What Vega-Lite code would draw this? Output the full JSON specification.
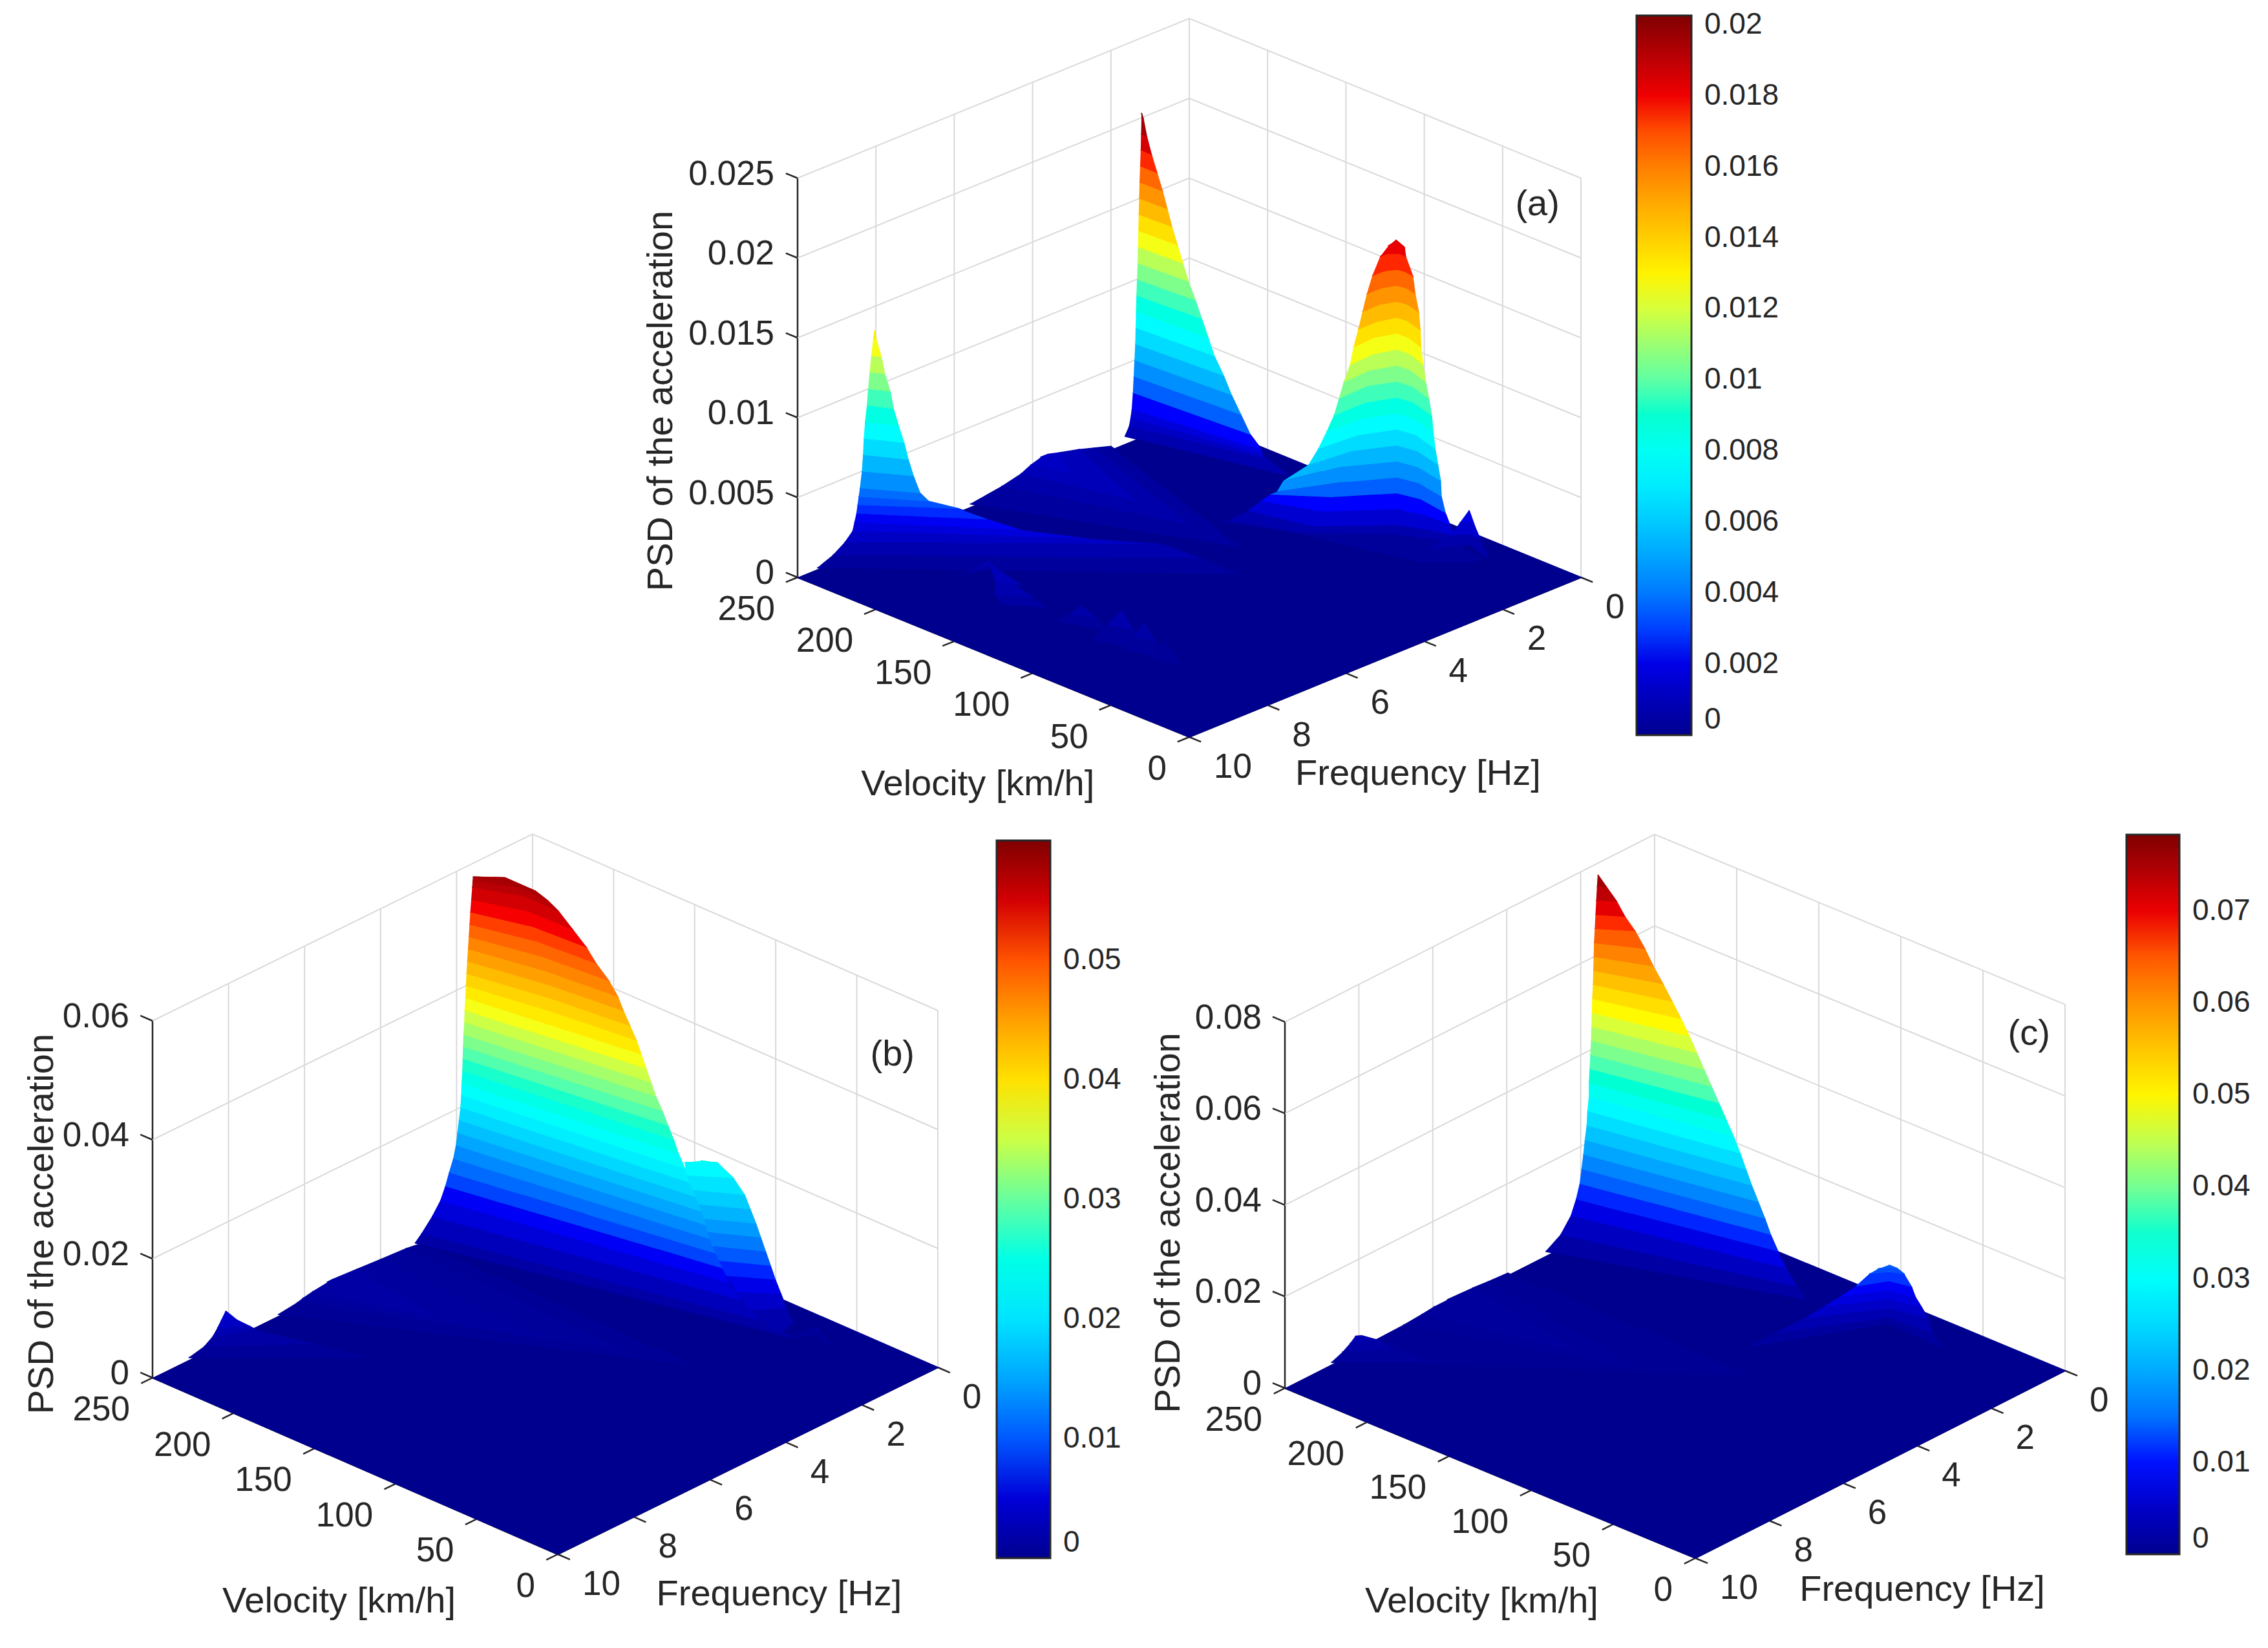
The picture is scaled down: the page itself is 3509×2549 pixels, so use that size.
{"$schema":"https://vega.github.io/schema/vega-lite/v6.json","width":3509,"height":2549,"padding":0,"autosize":{"type":"none"},"background":"white","config":{"view":{"stroke":null},"text":{"font":"Liberation Sans","fontSize":53,"color":"#262626"},"line":{"point":false}},
"resolve":{"scale":{"fill":"independent","stroke":"independent"}},
"encoding":{"x":{"field":"sx","type":"quantitative","scale":{"domain":[0,3509]},"axis":null},"y":{"field":"sy","type":"quantitative","scale":{"domain":[2549,0]},"axis":null}},
"datasets":{
"box":[{"id":"f2","kind":"grid","vel":250,"frq":2,"h":0},{"id":"f2","kind":"grid","vel":250,"frq":2,"h":1},{"id":"f4","kind":"grid","vel":250,"frq":4,"h":0},{"id":"f4","kind":"grid","vel":250,"frq":4,"h":1},{"id":"f6","kind":"grid","vel":250,"frq":6,"h":0},{"id":"f6","kind":"grid","vel":250,"frq":6,"h":1},{"id":"f8","kind":"grid","vel":250,"frq":8,"h":0},{"id":"f8","kind":"grid","vel":250,"frq":8,"h":1},{"id":"c","kind":"grid","vel":250,"frq":0,"h":0},{"id":"c","kind":"grid","vel":250,"frq":0,"h":1},{"id":"v0","kind":"grid","vel":0,"frq":0,"h":0},{"id":"v0","kind":"grid","vel":0,"frq":0,"h":1},{"id":"v50","kind":"grid","vel":50,"frq":0,"h":0},{"id":"v50","kind":"grid","vel":50,"frq":0,"h":1},{"id":"v100","kind":"grid","vel":100,"frq":0,"h":0},{"id":"v100","kind":"grid","vel":100,"frq":0,"h":1},{"id":"v150","kind":"grid","vel":150,"frq":0,"h":0},{"id":"v150","kind":"grid","vel":150,"frq":0,"h":1},{"id":"v200","kind":"grid","vel":200,"frq":0,"h":0},{"id":"v200","kind":"grid","vel":200,"frq":0,"h":1},
{"id":"ax","kind":"axis","vel":250,"frq":10,"h":0},{"id":"ax","kind":"axis","vel":250,"frq":10,"h":1},{"id":"e","kind":"axis","vel":250,"frq":10,"h":0},{"id":"e","kind":"axis","vel":0,"frq":10,"h":0},{"id":"e","kind":"axis","vel":0,"frq":0,"h":0},
{"id":"t0","kind":"axis","vel":0,"frq":10,"h":0},{"id":"t0","kind":"axis","vel":0,"frq":10.3,"h":0},{"id":"t1","kind":"axis","vel":50,"frq":10,"h":0},{"id":"t1","kind":"axis","vel":50,"frq":10.3,"h":0},{"id":"t2","kind":"axis","vel":100,"frq":10,"h":0},{"id":"t2","kind":"axis","vel":100,"frq":10.3,"h":0},{"id":"t3","kind":"axis","vel":150,"frq":10,"h":0},{"id":"t3","kind":"axis","vel":150,"frq":10.3,"h":0},{"id":"t4","kind":"axis","vel":200,"frq":10,"h":0},{"id":"t4","kind":"axis","vel":200,"frq":10.3,"h":0},{"id":"t5","kind":"axis","vel":250,"frq":10,"h":0},{"id":"t5","kind":"axis","vel":250,"frq":10.3,"h":0},
{"id":"u0","kind":"axis","vel":0,"frq":0,"h":0},{"id":"u0","kind":"axis","vel":-7.5,"frq":0,"h":0},{"id":"u1","kind":"axis","vel":0,"frq":2,"h":0},{"id":"u1","kind":"axis","vel":-7.5,"frq":2,"h":0},{"id":"u2","kind":"axis","vel":0,"frq":4,"h":0},{"id":"u2","kind":"axis","vel":-7.5,"frq":4,"h":0},{"id":"u3","kind":"axis","vel":0,"frq":6,"h":0},{"id":"u3","kind":"axis","vel":-7.5,"frq":6,"h":0},{"id":"u4","kind":"axis","vel":0,"frq":8,"h":0},{"id":"u4","kind":"axis","vel":-7.5,"frq":8,"h":0},{"id":"u5","kind":"axis","vel":0,"frq":10,"h":0},{"id":"u5","kind":"axis","vel":-7.5,"frq":10,"h":0},
{"kind":"vt","vel":0,"frq":10,"h":0},{"kind":"vt","vel":50,"frq":10,"h":0},{"kind":"vt","vel":100,"frq":10,"h":0},{"kind":"vt","vel":150,"frq":10,"h":0},{"kind":"vt","vel":200,"frq":10,"h":0},{"kind":"vt","vel":250,"frq":10,"h":0},
{"kind":"ft","vel":0,"frq":0,"h":0},{"kind":"ft","vel":0,"frq":2,"h":0},{"kind":"ft","vel":0,"frq":4,"h":0},{"kind":"ft","vel":0,"frq":6,"h":0},{"kind":"ft","vel":0,"frq":8,"h":0},{"kind":"ft","vel":0,"frq":10,"h":0}],
"za":[{"id":"z1","kind":"grid","psd":0.005,"vel":250,"frq":10},{"id":"z1","kind":"grid","psd":0.005,"vel":250,"frq":0},{"id":"z1","kind":"grid","psd":0.005,"vel":0,"frq":0},{"id":"z2","kind":"grid","psd":0.01,"vel":250,"frq":10},{"id":"z2","kind":"grid","psd":0.01,"vel":250,"frq":0},{"id":"z2","kind":"grid","psd":0.01,"vel":0,"frq":0},{"id":"z3","kind":"grid","psd":0.015,"vel":250,"frq":10},{"id":"z3","kind":"grid","psd":0.015,"vel":250,"frq":0},{"id":"z3","kind":"grid","psd":0.015,"vel":0,"frq":0},{"id":"z4","kind":"grid","psd":0.02,"vel":250,"frq":10},{"id":"z4","kind":"grid","psd":0.02,"vel":250,"frq":0},{"id":"z4","kind":"grid","psd":0.02,"vel":0,"frq":0},{"id":"z5","kind":"grid","psd":0.025,"vel":250,"frq":10},{"id":"z5","kind":"grid","psd":0.025,"vel":250,"frq":0},{"id":"z5","kind":"grid","psd":0.025,"vel":0,"frq":0},
{"id":"k0","kind":"axis","psd":0,"vel":250,"frq":10},{"id":"k0","kind":"axis","psd":0,"vel":257.5,"frq":10},{"id":"k1","kind":"axis","psd":0.005,"vel":250,"frq":10},{"id":"k1","kind":"axis","psd":0.005,"vel":257.5,"frq":10},{"id":"k2","kind":"axis","psd":0.01,"vel":250,"frq":10},{"id":"k2","kind":"axis","psd":0.01,"vel":257.5,"frq":10},{"id":"k3","kind":"axis","psd":0.015,"vel":250,"frq":10},{"id":"k3","kind":"axis","psd":0.015,"vel":257.5,"frq":10},{"id":"k4","kind":"axis","psd":0.02,"vel":250,"frq":10},{"id":"k4","kind":"axis","psd":0.02,"vel":257.5,"frq":10},{"id":"k5","kind":"axis","psd":0.025,"vel":250,"frq":10},{"id":"k5","kind":"axis","psd":0.025,"vel":257.5,"frq":10},
{"kind":"zl","psd":0,"vel":250,"frq":10},{"kind":"zl","psd":0.005,"vel":250,"frq":10},{"kind":"zl","psd":0.01,"vel":250,"frq":10},{"kind":"zl","psd":0.015,"vel":250,"frq":10},{"kind":"zl","psd":0.02,"vel":250,"frq":10},{"kind":"zl","psd":0.025,"vel":250,"frq":10},
{"kind":"title","t":"Velocity [km/h]","vel":30.5,"frq":14.18,"psd":0},{"kind":"title","t":"Frequency [Hz]","vel":-102,"frq":8.24,"psd":0},{"kind":"ytitle","t":"PSD of the acceleration","vel":250,"frq":13.48,"psd":0.01453},{"kind":"title","t":"(a)","vel":27.8,"frq":0,"psd":0.02225}],
"zb":[{"id":"z1","kind":"grid","psd":0.02,"vel":250,"frq":10},{"id":"z1","kind":"grid","psd":0.02,"vel":250,"frq":0},{"id":"z1","kind":"grid","psd":0.02,"vel":0,"frq":0},{"id":"z2","kind":"grid","psd":0.04,"vel":250,"frq":10},{"id":"z2","kind":"grid","psd":0.04,"vel":250,"frq":0},{"id":"z2","kind":"grid","psd":0.04,"vel":0,"frq":0},{"id":"z3","kind":"grid","psd":0.06,"vel":250,"frq":10},{"id":"z3","kind":"grid","psd":0.06,"vel":250,"frq":0},{"id":"z3","kind":"grid","psd":0.06,"vel":0,"frq":0},
{"id":"k0","kind":"axis","psd":0,"vel":250,"frq":10},{"id":"k0","kind":"axis","psd":0,"vel":257.5,"frq":10},{"id":"k1","kind":"axis","psd":0.02,"vel":250,"frq":10},{"id":"k1","kind":"axis","psd":0.02,"vel":257.5,"frq":10},{"id":"k2","kind":"axis","psd":0.04,"vel":250,"frq":10},{"id":"k2","kind":"axis","psd":0.04,"vel":257.5,"frq":10},{"id":"k3","kind":"axis","psd":0.06,"vel":250,"frq":10},{"id":"k3","kind":"axis","psd":0.06,"vel":257.5,"frq":10},
{"kind":"zl","psd":0,"vel":250,"frq":10},{"kind":"zl","psd":0.02,"vel":250,"frq":10},{"kind":"zl","psd":0.04,"vel":250,"frq":10},{"kind":"zl","psd":0.06,"vel":250,"frq":10},
{"kind":"title","t":"Velocity [km/h]","vel":40,"frq":14.05,"psd":0},{"kind":"title","t":"Frequency [Hz]","vel":-99,"frq":8.4,"psd":0},{"kind":"ytitle","t":"PSD of the acceleration","vel":250,"frq":12.91,"psd":0.035},{"kind":"title","t":"(b)","vel":28,"frq":0,"psd":0.0493}],
"zc":[{"id":"z1","kind":"grid","psd":0.02,"vel":250,"frq":10},{"id":"z1","kind":"grid","psd":0.02,"vel":250,"frq":0},{"id":"z1","kind":"grid","psd":0.02,"vel":0,"frq":0},{"id":"z2","kind":"grid","psd":0.04,"vel":250,"frq":10},{"id":"z2","kind":"grid","psd":0.04,"vel":250,"frq":0},{"id":"z2","kind":"grid","psd":0.04,"vel":0,"frq":0},{"id":"z3","kind":"grid","psd":0.06,"vel":250,"frq":10},{"id":"z3","kind":"grid","psd":0.06,"vel":250,"frq":0},{"id":"z3","kind":"grid","psd":0.06,"vel":0,"frq":0},{"id":"z4","kind":"grid","psd":0.08,"vel":250,"frq":10},{"id":"z4","kind":"grid","psd":0.08,"vel":250,"frq":0},{"id":"z4","kind":"grid","psd":0.08,"vel":0,"frq":0},
{"id":"k0","kind":"axis","psd":0,"vel":250,"frq":10},{"id":"k0","kind":"axis","psd":0,"vel":257.5,"frq":10},{"id":"k1","kind":"axis","psd":0.02,"vel":250,"frq":10},{"id":"k1","kind":"axis","psd":0.02,"vel":257.5,"frq":10},{"id":"k2","kind":"axis","psd":0.04,"vel":250,"frq":10},{"id":"k2","kind":"axis","psd":0.04,"vel":257.5,"frq":10},{"id":"k3","kind":"axis","psd":0.06,"vel":250,"frq":10},{"id":"k3","kind":"axis","psd":0.06,"vel":257.5,"frq":10},{"id":"k4","kind":"axis","psd":0.08,"vel":250,"frq":10},{"id":"k4","kind":"axis","psd":0.08,"vel":257.5,"frq":10},
{"kind":"zl","psd":0,"vel":250,"frq":10},{"kind":"zl","psd":0.02,"vel":250,"frq":10},{"kind":"zl","psd":0.04,"vel":250,"frq":10},{"kind":"zl","psd":0.06,"vel":250,"frq":10},{"kind":"zl","psd":0.08,"vel":250,"frq":10},
{"kind":"title","t":"Velocity [km/h]","vel":43,"frq":13.87,"psd":0},{"kind":"title","t":"Frequency [Hz]","vel":-97,"frq":8.17,"psd":0},{"kind":"ytitle","t":"PSD of the acceleration","vel":250,"frq":13.15,"psd":0.049},{"kind":"title","t":"(c)","vel":22,"frq":0,"psd":0.0703}],
"a":[{"lobe":0,"psd":0,"vel":250,"frq":10},{"lobe":0,"psd":0,"vel":0,"frq":10},{"lobe":0,"psd":0,"vel":0,"frq":0},{"lobe":0,"psd":0,"vel":250,"frq":0},
{"lobe":1,"psd":0.0002,"vel":250,"frq":5.6},{"lobe":1,"psd":0.0002,"vel":130,"frq":3.5},{"lobe":1,"psd":0.0002,"vel":250,"frq":2},{"lobe":1,"psd":0.0005,"vel":250,"frq":4.8},{"lobe":1,"psd":0.0005,"vel":160,"frq":3.6},{"lobe":1,"psd":0.0005,"vel":250,"frq":2.4},{"lobe":1,"psd":0.0008,"vel":250,"frq":4.3},{"lobe":1,"psd":0.0008,"vel":190,"frq":3.7},{"lobe":1,"psd":0.0008,"vel":250,"frq":2.8},{"lobe":1,"psd":0.0011,"vel":250,"frq":4.05},{"lobe":1,"psd":0.0011,"vel":230,"frq":3.8},{"lobe":1,"psd":0.0011,"vel":250,"frq":3.3},{"lobe":1,"psd":0.0013,"vel":250,"frq":3.8},{"lobe":1,"psd":0.0013,"vel":250,"frq":3.7},{"lobe":1,"psd":0.0013,"vel":250,"frq":3.6},
{"lobe":2,"psd":0.0005,"vel":250,"frq":1.65},{"lobe":2,"psd":0.0005,"vel":166,"frq":0.8},{"lobe":2,"psd":0.001,"vel":250,"frq":1.54},{"lobe":2,"psd":0.001,"vel":179,"frq":0.8},{"lobe":2,"psd":0.0015,"vel":250,"frq":1.5},{"lobe":2,"psd":0.0015,"vel":178,"frq":1},{"lobe":2,"psd":0.002,"vel":250,"frq":1.47},{"lobe":2,"psd":0.002,"vel":176,"frq":1.1},{"lobe":2,"psd":0.003,"vel":250,"frq":1.44},{"lobe":2,"psd":0.003,"vel":180,"frq":1.25},{"lobe":2,"psd":0.004,"vel":250,"frq":1.42},{"lobe":2,"psd":0.004,"vel":186,"frq":1.25},{"lobe":2,"psd":0.005,"vel":250,"frq":1.4},{"lobe":2,"psd":0.005,"vel":192,"frq":1.25},{"lobe":2,"psd":0.006,"vel":250,"frq":1.38},{"lobe":2,"psd":0.006,"vel":197,"frq":1.25},{"lobe":2,"psd":0.007,"vel":250,"frq":1.37},{"lobe":2,"psd":0.007,"vel":203,"frq":1.25},{"lobe":2,"psd":0.008,"vel":250,"frq":1.36},{"lobe":2,"psd":0.008,"vel":207,"frq":1.25},{"lobe":2,"psd":0.009,"vel":250,"frq":1.35},{"lobe":2,"psd":0.009,"vel":211,"frq":1.25},{"lobe":2,"psd":0.01,"vel":250,"frq":1.335},{"lobe":2,"psd":0.01,"vel":215,"frq":1.25},{"lobe":2,"psd":0.011,"vel":250,"frq":1.32},{"lobe":2,"psd":0.011,"vel":219.5,"frq":1.25},{"lobe":2,"psd":0.012,"vel":250,"frq":1.31},{"lobe":2,"psd":0.012,"vel":223,"frq":1.25},{"lobe":2,"psd":0.013,"vel":250,"frq":1.3},{"lobe":2,"psd":0.013,"vel":226.5,"frq":1.25},{"lobe":2,"psd":0.014,"vel":250,"frq":1.29},{"lobe":2,"psd":0.014,"vel":230,"frq":1.25},{"lobe":2,"psd":0.015,"vel":250,"frq":1.28},{"lobe":2,"psd":0.015,"vel":233,"frq":1.25},{"lobe":2,"psd":0.016,"vel":250,"frq":1.27},{"lobe":2,"psd":0.016,"vel":236,"frq":1.25},{"lobe":2,"psd":0.017,"vel":250,"frq":1.255},{"lobe":2,"psd":0.017,"vel":239.5,"frq":1.25},{"lobe":2,"psd":0.018,"vel":250,"frq":1.24},{"lobe":2,"psd":0.018,"vel":243,"frq":1.25},{"lobe":2,"psd":0.019,"vel":250,"frq":1.23},{"lobe":2,"psd":0.019,"vel":246,"frq":1.25},{"lobe":2,"psd":0.02,"vel":250,"frq":1.22},{"lobe":2,"psd":0.02,"vel":249,"frq":1.22},{"lobe":2,"psd":0.0203,"vel":250,"frq":1.22},
{"lobe":3,"psd":0.0001,"vel":250,"frq":9.5},{"lobe":3,"psd":0.0001,"vel":110,"frq":4.3},{"lobe":3,"psd":0.0005,"vel":250,"frq":9.1},{"lobe":3,"psd":0.0005,"vel":130,"frq":4.5},{"lobe":3,"psd":0.001,"vel":250,"frq":8.8},{"lobe":3,"psd":0.001,"vel":147,"frq":4.8},{"lobe":3,"psd":0.0015,"vel":250,"frq":8.6},{"lobe":3,"psd":0.0015,"vel":168,"frq":5.8},{"lobe":3,"psd":0.002,"vel":250,"frq":8.55},{"lobe":3,"psd":0.002,"vel":190,"frq":6.65},{"lobe":3,"psd":0.0025,"vel":250,"frq":8.5},{"lobe":3,"psd":0.0025,"vel":203,"frq":7},{"lobe":3,"psd":0.003,"vel":250,"frq":8.47},{"lobe":3,"psd":0.003,"vel":215,"frq":7.3},{"lobe":3,"psd":0.0035,"vel":250,"frq":8.44},{"lobe":3,"psd":0.0035,"vel":224,"frq":7.7},{"lobe":3,"psd":0.004,"vel":250,"frq":8.41},{"lobe":3,"psd":0.004,"vel":227,"frq":7.8},{"lobe":3,"psd":0.005,"vel":250,"frq":8.36},{"lobe":3,"psd":0.005,"vel":230,"frq":7.85},{"lobe":3,"psd":0.006,"vel":250,"frq":8.33},{"lobe":3,"psd":0.006,"vel":232,"frq":7.9},{"lobe":3,"psd":0.007,"vel":250,"frq":8.31},{"lobe":3,"psd":0.007,"vel":234,"frq":7.93},{"lobe":3,"psd":0.008,"vel":250,"frq":8.28},{"lobe":3,"psd":0.008,"vel":236.5,"frq":7.97},{"lobe":3,"psd":0.009,"vel":250,"frq":8.23},{"lobe":3,"psd":0.009,"vel":239,"frq":8},{"lobe":3,"psd":0.01,"vel":250,"frq":8.2},{"lobe":3,"psd":0.01,"vel":241,"frq":8},{"lobe":3,"psd":0.011,"vel":250,"frq":8.16},{"lobe":3,"psd":0.011,"vel":244,"frq":8.02},{"lobe":3,"psd":0.012,"vel":250,"frq":8.12},{"lobe":3,"psd":0.012,"vel":246,"frq":8.03},{"lobe":3,"psd":0.013,"vel":250,"frq":8.07},{"lobe":3,"psd":0.013,"vel":249,"frq":8.04},{"lobe":3,"psd":0.0135,"vel":250,"frq":8.04},
{"lobe":4,"psd":0.0001,"vel":160,"frq":3},{"lobe":4,"psd":0.0001,"vel":130,"frq":2.4},{"lobe":4,"psd":0.0001,"vel":60,"frq":1.6},{"lobe":4,"psd":0.0001,"vel":45,"frq":1},{"lobe":4,"psd":0.0001,"vel":45,"frq":0.7},
{"lobe":4,"psd":0.0004,"vel":152,"frq":2.93},{"lobe":4,"psd":0.0004,"vel":120,"frq":2.4},{"lobe":4,"psd":0.0004,"vel":87,"frq":1.22},{"lobe":4,"psd":0.0004,"vel":72.5,"frq":0.9},{"lobe":4,"psd":0.0004,"vel":57,"frq":0.75},
{"lobe":4,"psd":0.001,"vel":146,"frq":2.67},{"lobe":4,"psd":0.001,"vel":113,"frq":2.33},{"lobe":4,"psd":0.001,"vel":87,"frq":1.22},{"lobe":4,"psd":0.001,"vel":74,"frq":0.97},{"lobe":4,"psd":0.001,"vel":59,"frq":0.8},
{"lobe":4,"psd":0.002,"vel":137,"frq":2.7},{"lobe":4,"psd":0.002,"vel":109,"frq":2.26},{"lobe":4,"psd":0.002,"vel":87,"frq":1.22},{"lobe":4,"psd":0.002,"vel":74,"frq":1.06},{"lobe":4,"psd":0.002,"vel":58,"frq":1.03},
{"lobe":4,"psd":0.003,"vel":126.5,"frq":2.88},{"lobe":4,"psd":0.003,"vel":105,"frq":2.18},{"lobe":4,"psd":0.003,"vel":87,"frq":1.22},{"lobe":4,"psd":0.003,"vel":75,"frq":1.1},{"lobe":4,"psd":0.003,"vel":56.5,"frq":1.21},
{"lobe":4,"psd":0.004,"vel":114,"frq":3.2},{"lobe":4,"psd":0.004,"vel":102,"frq":2.17},{"lobe":4,"psd":0.004,"vel":87,"frq":1.22},{"lobe":4,"psd":0.004,"vel":75.5,"frq":1.12},{"lobe":4,"psd":0.004,"vel":58,"frq":1.25},
{"lobe":4,"psd":0.005,"vel":108,"frq":3.28},{"lobe":4,"psd":0.005,"vel":101,"frq":2.13},{"lobe":4,"psd":0.005,"vel":87,"frq":1.22},{"lobe":4,"psd":0.005,"vel":76,"frq":1.13},{"lobe":4,"psd":0.005,"vel":58,"frq":1.27},
{"lobe":4,"psd":0.006,"vel":100,"frq":2.96},{"lobe":4,"psd":0.006,"vel":97,"frq":1.97},{"lobe":4,"psd":0.006,"vel":87,"frq":1.22},{"lobe":4,"psd":0.006,"vel":76,"frq":1.14},{"lobe":4,"psd":0.006,"vel":59,"frq":1.3},
{"lobe":4,"psd":0.007,"vel":97,"frq":2.83},{"lobe":4,"psd":0.007,"vel":95,"frq":1.9},{"lobe":4,"psd":0.007,"vel":87,"frq":1.22},{"lobe":4,"psd":0.007,"vel":77,"frq":1.15},{"lobe":4,"psd":0.007,"vel":60,"frq":1.33},
{"lobe":4,"psd":0.008,"vel":95,"frq":2.7},{"lobe":4,"psd":0.008,"vel":94,"frq":1.85},{"lobe":4,"psd":0.008,"vel":87,"frq":1.22},{"lobe":4,"psd":0.008,"vel":77,"frq":1.16},{"lobe":4,"psd":0.008,"vel":61,"frq":1.34},
{"lobe":4,"psd":0.009,"vel":93,"frq":2.59},{"lobe":4,"psd":0.009,"vel":93,"frq":1.79},{"lobe":4,"psd":0.009,"vel":87,"frq":1.22},{"lobe":4,"psd":0.009,"vel":78,"frq":1.17},{"lobe":4,"psd":0.009,"vel":62,"frq":1.34},
{"lobe":4,"psd":0.01,"vel":92,"frq":2.5},{"lobe":4,"psd":0.01,"vel":93,"frq":1.75},{"lobe":4,"psd":0.01,"vel":87,"frq":1.22},{"lobe":4,"psd":0.01,"vel":78,"frq":1.18},{"lobe":4,"psd":0.01,"vel":63.5,"frq":1.35},
{"lobe":4,"psd":0.011,"vel":91,"frq":2.42},{"lobe":4,"psd":0.011,"vel":92,"frq":1.72},{"lobe":4,"psd":0.011,"vel":87,"frq":1.22},{"lobe":4,"psd":0.011,"vel":79,"frq":1.19},{"lobe":4,"psd":0.011,"vel":65,"frq":1.37},
{"lobe":4,"psd":0.012,"vel":90,"frq":2.3},{"lobe":4,"psd":0.012,"vel":91,"frq":1.67},{"lobe":4,"psd":0.012,"vel":87,"frq":1.22},{"lobe":4,"psd":0.012,"vel":79,"frq":1.2},{"lobe":4,"psd":0.012,"vel":67,"frq":1.36},
{"lobe":4,"psd":0.013,"vel":90,"frq":2.21},{"lobe":4,"psd":0.013,"vel":91,"frq":1.63},{"lobe":4,"psd":0.013,"vel":87,"frq":1.22},{"lobe":4,"psd":0.013,"vel":80,"frq":1.2},{"lobe":4,"psd":0.013,"vel":68.5,"frq":1.35},
{"lobe":4,"psd":0.014,"vel":90,"frq":2.09},{"lobe":4,"psd":0.014,"vel":90,"frq":1.58},{"lobe":4,"psd":0.014,"vel":87,"frq":1.22},{"lobe":4,"psd":0.014,"vel":81,"frq":1.19},{"lobe":4,"psd":0.014,"vel":70,"frq":1.31},
{"lobe":4,"psd":0.015,"vel":90,"frq":1.98},{"lobe":4,"psd":0.015,"vel":90,"frq":1.53},{"lobe":4,"psd":0.015,"vel":87,"frq":1.22},{"lobe":4,"psd":0.015,"vel":81,"frq":1.18},{"lobe":4,"psd":0.015,"vel":72,"frq":1.27},
{"lobe":4,"psd":0.016,"vel":90,"frq":1.87},{"lobe":4,"psd":0.016,"vel":90,"frq":1.49},{"lobe":4,"psd":0.016,"vel":87,"frq":1.22},{"lobe":4,"psd":0.016,"vel":82,"frq":1.18},{"lobe":4,"psd":0.016,"vel":75,"frq":1.24},
{"lobe":4,"psd":0.017,"vel":90,"frq":1.73},{"lobe":4,"psd":0.017,"vel":90,"frq":1.43},{"lobe":4,"psd":0.017,"vel":87,"frq":1.22},{"lobe":4,"psd":0.017,"vel":83,"frq":1.18},{"lobe":4,"psd":0.017,"vel":77,"frq":1.22},
{"lobe":4,"psd":0.018,"vel":90,"frq":1.53},{"lobe":4,"psd":0.018,"vel":90,"frq":1.36},{"lobe":4,"psd":0.018,"vel":87,"frq":1.22},{"lobe":4,"psd":0.018,"vel":85,"frq":1.19},{"lobe":4,"psd":0.018,"vel":82,"frq":1.2},
{"lobe":4,"psd":0.0183,"vel":92,"frq":1.24},{"lobe":4,"psd":0.0183,"vel":93,"frq":1},{"lobe":4,"psd":0.0183,"vel":86,"frq":1.07},{"lobe":4,"psd":0.0185,"vel":92,"frq":1.05},
{"lobe":5,"psd":0.0003,"vel":67,"frq":1.23},{"lobe":5,"psd":0.0003,"vel":57,"frq":0.57},{"lobe":5,"psd":0.0003,"vel":40,"frq":0.75},{"lobe":5,"psd":0.001,"vel":62,"frq":0.85},{"lobe":5,"psd":0.001,"vel":57,"frq":0.57},{"lobe":5,"psd":0.001,"vel":49,"frq":0.61},{"lobe":5,"psd":0.0018,"vel":59,"frq":0.73},{"lobe":5,"psd":0.0018,"vel":57,"frq":0.57},{"lobe":5,"psd":0.0018,"vel":51,"frq":0.67},{"lobe":5,"psd":0.0025,"vel":57,"frq":0.58},
{"lobe":6,"psd":0.0003,"vel":198,"frq":8.29},{"lobe":6,"psd":0.0003,"vel":192,"frq":7.45},{"lobe":6,"psd":0.0003,"vel":143,"frq":7.9},{"lobe":6,"psd":0.0003,"vel":160,"frq":8.4},{"lobe":6,"psd":0.0006,"vel":192,"frq":8.09},{"lobe":6,"psd":0.0006,"vel":191,"frq":7.5},{"lobe":6,"psd":0.0006,"vel":151,"frq":7.93},{"lobe":6,"psd":0.0006,"vel":166,"frq":8.33},{"lobe":6,"psd":0.0009,"vel":189,"frq":7.9},{"lobe":6,"psd":0.0009,"vel":189,"frq":7.56},{"lobe":6,"psd":0.0009,"vel":161,"frq":7.84},{"lobe":6,"psd":0.0009,"vel":172,"frq":8.07},{"lobe":6,"psd":0.0012,"vel":187,"frq":7.65},
{"lobe":7,"psd":0.0001,"vel":132,"frq":8.1},{"lobe":7,"psd":0.0001,"vel":105.5,"frq":7.76},{"lobe":7,"psd":0.0005,"vel":128,"frq":7.93},{"lobe":7,"psd":0.0005,"vel":116,"frq":7.73},{"lobe":7,"psd":0.001,"vel":125,"frq":7.75},
{"lobe":8,"psd":0.0001,"vel":106,"frq":8.25},{"lobe":8,"psd":0.0001,"vel":82,"frq":7.9},{"lobe":8,"psd":0.0005,"vel":107.5,"frq":7.8},{"lobe":8,"psd":0.0005,"vel":95,"frq":7.61},{"lobe":8,"psd":0.0011,"vel":107.5,"frq":7.42},
{"lobe":9,"psd":0.0001,"vel":89,"frq":8.18},{"lobe":9,"psd":0.0001,"vel":66,"frq":7.87},{"lobe":9,"psd":0.0004,"vel":92,"frq":7.79},{"lobe":9,"psd":0.0004,"vel":79,"frq":7.68},{"lobe":9,"psd":0.0009,"vel":93,"frq":7.42},
{"lobe":10,"psd":0.0001,"vel":72,"frq":8.11},{"lobe":10,"psd":0.0001,"vel":56.5,"frq":7.9},{"lobe":10,"psd":0.0005,"vel":78,"frq":7.54}],
"b":[{"lobe":0,"psd":0,"vel":250,"frq":10},{"lobe":0,"psd":0,"vel":0,"frq":10},{"lobe":0,"psd":0,"vel":0,"frq":0},{"lobe":0,"psd":0,"vel":250,"frq":0},
{"lobe":1,"psd":0.0003,"vel":250,"frq":6.7},{"lobe":1,"psd":0.0003,"vel":80,"frq":3},{"lobe":1,"psd":0.0003,"vel":250,"frq":2.9},{"lobe":1,"psd":0.0007,"vel":250,"frq":6.2},{"lobe":1,"psd":0.0007,"vel":110,"frq":3.5},{"lobe":1,"psd":0.0007,"vel":250,"frq":3.3},{"lobe":1,"psd":0.001,"vel":250,"frq":6.05},{"lobe":1,"psd":0.001,"vel":140,"frq":4.2},{"lobe":1,"psd":0.001,"vel":250,"frq":3.98},{"lobe":1,"psd":0.0013,"vel":250,"frq":5.8},{"lobe":1,"psd":0.0013,"vel":190,"frq":5},{"lobe":1,"psd":0.0013,"vel":250,"frq":4.6},{"lobe":1,"psd":0.0016,"vel":250,"frq":5.41},{"lobe":1,"psd":0.0016,"vel":250,"frq":5.3},{"lobe":1,"psd":0.0016,"vel":250,"frq":5.2},
{"lobe":2,"psd":0.0004,"vel":250,"frq":9.05},{"lobe":2,"psd":0.0004,"vel":190,"frq":6.8},{"lobe":2,"psd":0.001,"vel":250,"frq":8.65},{"lobe":2,"psd":0.001,"vel":215,"frq":7.2},{"lobe":2,"psd":0.002,"vel":250,"frq":8.42},{"lobe":2,"psd":0.002,"vel":240,"frq":7.7},{"lobe":2,"psd":0.003,"vel":250,"frq":8.3},{"lobe":2,"psd":0.003,"vel":241,"frq":7.85},{"lobe":2,"psd":0.004,"vel":250,"frq":8.2},{"lobe":2,"psd":0.004,"vel":245,"frq":8},{"lobe":2,"psd":0.0052,"vel":250,"frq":8.08},
{"lobe":3,"psd":0.001,"vel":250,"frq":3.1},{"lobe":3,"psd":0.001,"vel":60,"frq":1.1},{"lobe":3,"psd":0.002,"vel":250,"frq":2.93},{"lobe":3,"psd":0.002,"vel":80,"frq":1.2},{"lobe":3,"psd":0.004,"vel":250,"frq":2.65},{"lobe":3,"psd":0.004,"vel":92.5,"frq":1.2},{"lobe":3,"psd":0.006,"vel":250,"frq":2.43},{"lobe":3,"psd":0.006,"vel":100,"frq":1.2},{"lobe":3,"psd":0.008,"vel":250,"frq":2.3},{"lobe":3,"psd":0.008,"vel":105,"frq":1.2},{"lobe":3,"psd":0.01,"vel":250,"frq":2.2},{"lobe":3,"psd":0.01,"vel":109,"frq":1.2},{"lobe":3,"psd":0.012,"vel":250,"frq":2.09},{"lobe":3,"psd":0.012,"vel":112.5,"frq":1.2},{"lobe":3,"psd":0.014,"vel":250,"frq":2.02},{"lobe":3,"psd":0.014,"vel":115,"frq":1.2},{"lobe":3,"psd":0.016,"vel":250,"frq":1.98},{"lobe":3,"psd":0.016,"vel":117.5,"frq":1.2},{"lobe":3,"psd":0.018,"vel":250,"frq":1.94},{"lobe":3,"psd":0.018,"vel":121,"frq":1.2},{"lobe":3,"psd":0.02,"vel":250,"frq":1.9},{"lobe":3,"psd":0.02,"vel":125,"frq":1.2},{"lobe":3,"psd":0.022,"vel":250,"frq":1.88},{"lobe":3,"psd":0.022,"vel":128,"frq":1.2},{"lobe":3,"psd":0.024,"vel":250,"frq":1.87},{"lobe":3,"psd":0.024,"vel":132,"frq":1.2},{"lobe":3,"psd":0.026,"vel":250,"frq":1.85},{"lobe":3,"psd":0.026,"vel":135,"frq":1.2},{"lobe":3,"psd":0.028,"vel":250,"frq":1.84},{"lobe":3,"psd":0.028,"vel":138.5,"frq":1.2},{"lobe":3,"psd":0.03,"vel":250,"frq":1.83},{"lobe":3,"psd":0.03,"vel":142,"frq":1.2},{"lobe":3,"psd":0.032,"vel":250,"frq":1.82},{"lobe":3,"psd":0.032,"vel":146,"frq":1.2},{"lobe":3,"psd":0.034,"vel":250,"frq":1.8},{"lobe":3,"psd":0.034,"vel":149,"frq":1.2},{"lobe":3,"psd":0.036,"vel":250,"frq":1.79},{"lobe":3,"psd":0.036,"vel":152,"frq":1.2},{"lobe":3,"psd":0.038,"vel":250,"frq":1.77},{"lobe":3,"psd":0.038,"vel":155,"frq":1.2},
{"lobe":3,"psd":0.04,"vel":250,"frq":1.755},{"lobe":3,"psd":0.04,"vel":204,"frq":1.43},{"lobe":3,"psd":0.04,"vel":158,"frq":1.2},{"lobe":3,"psd":0.042,"vel":250,"frq":1.74},{"lobe":3,"psd":0.042,"vel":206,"frq":1.41},{"lobe":3,"psd":0.042,"vel":162,"frq":1.2},{"lobe":3,"psd":0.044,"vel":250,"frq":1.72},{"lobe":3,"psd":0.044,"vel":208,"frq":1.39},{"lobe":3,"psd":0.044,"vel":166,"frq":1.2},{"lobe":3,"psd":0.046,"vel":250,"frq":1.7},{"lobe":3,"psd":0.046,"vel":210,"frq":1.37},{"lobe":3,"psd":0.046,"vel":169.5,"frq":1.2},{"lobe":3,"psd":0.048,"vel":250,"frq":1.68},{"lobe":3,"psd":0.048,"vel":212.5,"frq":1.34},{"lobe":3,"psd":0.048,"vel":175,"frq":1.2},{"lobe":3,"psd":0.05,"vel":250,"frq":1.66},{"lobe":3,"psd":0.05,"vel":216.5,"frq":1.31},{"lobe":3,"psd":0.05,"vel":183,"frq":1.2},{"lobe":3,"psd":0.052,"vel":250,"frq":1.64},{"lobe":3,"psd":0.052,"vel":219.6,"frq":1.28},{"lobe":3,"psd":0.052,"vel":189,"frq":1.2},{"lobe":3,"psd":0.054,"vel":250,"frq":1.615},{"lobe":3,"psd":0.054,"vel":224,"frq":1.24},{"lobe":3,"psd":0.054,"vel":197.5,"frq":1.2},{"lobe":3,"psd":0.056,"vel":250,"frq":1.59},{"lobe":3,"psd":0.056,"vel":228,"frq":1.2},{"lobe":3,"psd":0.056,"vel":206,"frq":1.2},{"lobe":3,"psd":0.057,"vel":250,"frq":1.58},{"lobe":3,"psd":0.057,"vel":231,"frq":1.19},{"lobe":3,"psd":0.057,"vel":212.5,"frq":1.2},{"lobe":3,"psd":0.0577,"vel":250,"frq":1.57},{"lobe":3,"psd":0.0577,"vel":239,"frq":1.2},{"lobe":3,"psd":0.0577,"vel":220,"frq":1.2},
{"lobe":4,"psd":0.001,"vel":70,"frq":1.2},{"lobe":4,"psd":0.001,"vel":72.5,"frq":0.7},{"lobe":4,"psd":0.003,"vel":87.5,"frq":1.2},{"lobe":4,"psd":0.003,"vel":77,"frq":0.7},{"lobe":4,"psd":0.005,"vel":96,"frq":1.2},{"lobe":4,"psd":0.005,"vel":80.5,"frq":0.7},{"lobe":4,"psd":0.007,"vel":102.5,"frq":1.2},{"lobe":4,"psd":0.007,"vel":84,"frq":0.7},{"lobe":4,"psd":0.009,"vel":107,"frq":1.2},{"lobe":4,"psd":0.009,"vel":87,"frq":0.7},{"lobe":4,"psd":0.011,"vel":111,"frq":1.2},{"lobe":4,"psd":0.011,"vel":90,"frq":0.7},{"lobe":4,"psd":0.013,"vel":114,"frq":1.2},{"lobe":4,"psd":0.013,"vel":93,"frq":0.7},{"lobe":4,"psd":0.015,"vel":116,"frq":1.2},{"lobe":4,"psd":0.015,"vel":96,"frq":0.7},{"lobe":4,"psd":0.017,"vel":119.5,"frq":1.2},{"lobe":4,"psd":0.017,"vel":99.5,"frq":0.7},{"lobe":4,"psd":0.019,"vel":123,"frq":1.2},{"lobe":4,"psd":0.019,"vel":103,"frq":0.7},{"lobe":4,"psd":0.021,"vel":127,"frq":1.2},{"lobe":4,"psd":0.021,"vel":110,"frq":0.7},{"lobe":4,"psd":0.023,"vel":128,"frq":1.2},{"lobe":4,"psd":0.023,"vel":117.5,"frq":0.8},{"lobe":4,"psd":0.0245,"vel":118,"frq":1.2},{"lobe":4,"psd":0.0245,"vel":113,"frq":1.11},
{"lobe":5,"psd":0.0004,"vel":71,"frq":1.25},{"lobe":5,"psd":0.0004,"vel":59,"frq":0.66},{"lobe":5,"psd":0.0004,"vel":28,"frq":1.03},{"lobe":5,"psd":0.001,"vel":64,"frq":0.84},{"lobe":5,"psd":0.001,"vel":60,"frq":0.61},{"lobe":5,"psd":0.001,"vel":46,"frq":0.85},{"lobe":5,"psd":0.002,"vel":58,"frq":0.69}],
"c":[{"lobe":0,"psd":0,"vel":250,"frq":10},{"lobe":0,"psd":0,"vel":0,"frq":10},{"lobe":0,"psd":0,"vel":0,"frq":0},{"lobe":0,"psd":0,"vel":250,"frq":0},
{"lobe":1,"psd":0.0004,"vel":250,"frq":8.6},{"lobe":1,"psd":0.0004,"vel":100,"frq":4},{"lobe":1,"psd":0.0004,"vel":250,"frq":3.97},{"lobe":1,"psd":0.0007,"vel":250,"frq":6.8},{"lobe":1,"psd":0.0007,"vel":140,"frq":5.2},{"lobe":1,"psd":0.0007,"vel":250,"frq":4.5},{"lobe":1,"psd":0.001,"vel":250,"frq":6.3},{"lobe":1,"psd":0.001,"vel":170,"frq":5.5},{"lobe":1,"psd":0.001,"vel":250,"frq":4.9},{"lobe":1,"psd":0.0013,"vel":250,"frq":5.98},{"lobe":1,"psd":0.0013,"vel":240,"frq":5.9},{"lobe":1,"psd":0.0013,"vel":250,"frq":5.6},
{"lobe":2,"psd":0.0005,"vel":250,"frq":8.75},{"lobe":2,"psd":0.0005,"vel":215,"frq":7.5},{"lobe":2,"psd":0.0015,"vel":250,"frq":8.45},{"lobe":2,"psd":0.0015,"vel":235,"frq":7.7},{"lobe":2,"psd":0.0025,"vel":250,"frq":8.25},{"lobe":2,"psd":0.0025,"vel":243,"frq":7.8},{"lobe":2,"psd":0.0035,"vel":250,"frq":8.1},{"lobe":2,"psd":0.0035,"vel":248,"frq":8},
{"lobe":3,"psd":0.001,"vel":250,"frq":2.95},{"lobe":3,"psd":0.001,"vel":130,"frq":1.2},{"lobe":3,"psd":0.003,"vel":250,"frq":2.55},{"lobe":3,"psd":0.003,"vel":136,"frq":1.2},{"lobe":3,"psd":0.006,"vel":250,"frq":2.27},{"lobe":3,"psd":0.006,"vel":142.5,"frq":1.2},{"lobe":3,"psd":0.009,"vel":250,"frq":2.13},{"lobe":3,"psd":0.009,"vel":148,"frq":1.2},{"lobe":3,"psd":0.012,"vel":250,"frq":2.03},{"lobe":3,"psd":0.012,"vel":152.5,"frq":1.2},{"lobe":3,"psd":0.015,"vel":250,"frq":1.98},{"lobe":3,"psd":0.015,"vel":156,"frq":1.2},{"lobe":3,"psd":0.018,"vel":250,"frq":1.93},{"lobe":3,"psd":0.018,"vel":160,"frq":1.2},{"lobe":3,"psd":0.021,"vel":250,"frq":1.89},{"lobe":3,"psd":0.021,"vel":164,"frq":1.2},{"lobe":3,"psd":0.024,"vel":250,"frq":1.84},{"lobe":3,"psd":0.024,"vel":167.5,"frq":1.2},{"lobe":3,"psd":0.027,"vel":250,"frq":1.82},{"lobe":3,"psd":0.027,"vel":171,"frq":1.2},{"lobe":3,"psd":0.03,"vel":250,"frq":1.78},{"lobe":3,"psd":0.03,"vel":175,"frq":1.2},{"lobe":3,"psd":0.033,"vel":250,"frq":1.78},{"lobe":3,"psd":0.033,"vel":179.5,"frq":1.2},{"lobe":3,"psd":0.036,"vel":250,"frq":1.76},{"lobe":3,"psd":0.036,"vel":184,"frq":1.2},{"lobe":3,"psd":0.039,"vel":250,"frq":1.74},{"lobe":3,"psd":0.039,"vel":188.5,"frq":1.2},{"lobe":3,"psd":0.042,"vel":250,"frq":1.72},{"lobe":3,"psd":0.042,"vel":193,"frq":1.2},{"lobe":3,"psd":0.045,"vel":250,"frq":1.71},{"lobe":3,"psd":0.045,"vel":197.5,"frq":1.2},{"lobe":3,"psd":0.048,"vel":250,"frq":1.7},{"lobe":3,"psd":0.048,"vel":202,"frq":1.2},{"lobe":3,"psd":0.051,"vel":250,"frq":1.69},{"lobe":3,"psd":0.051,"vel":207,"frq":1.2},{"lobe":3,"psd":0.054,"vel":250,"frq":1.67},{"lobe":3,"psd":0.054,"vel":212.5,"frq":1.2},{"lobe":3,"psd":0.057,"vel":250,"frq":1.66},{"lobe":3,"psd":0.057,"vel":218,"frq":1.2},{"lobe":3,"psd":0.06,"vel":250,"frq":1.65},{"lobe":3,"psd":0.06,"vel":224,"frq":1.2},{"lobe":3,"psd":0.063,"vel":250,"frq":1.64},{"lobe":3,"psd":0.063,"vel":229,"frq":1.2},{"lobe":3,"psd":0.066,"vel":250,"frq":1.62},{"lobe":3,"psd":0.066,"vel":235,"frq":1.2},{"lobe":3,"psd":0.069,"vel":250,"frq":1.6},{"lobe":3,"psd":0.069,"vel":239,"frq":1.3},{"lobe":3,"psd":0.072,"vel":250,"frq":1.58},{"lobe":3,"psd":0.072,"vel":243,"frq":1.35},{"lobe":3,"psd":0.075,"vel":250,"frq":1.56},{"lobe":3,"psd":0.075,"vel":247,"frq":1.45},{"lobe":3,"psd":0.0775,"vel":250,"frq":1.54},
{"lobe":4,"psd":0.0007,"vel":120,"frq":3.3},{"lobe":4,"psd":0.0007,"vel":88,"frq":0.86},{"lobe":4,"psd":0.0007,"vel":54,"frq":0.92},{"lobe":4,"psd":0.002,"vel":116,"frq":2.7},{"lobe":4,"psd":0.002,"vel":88,"frq":0.86},{"lobe":4,"psd":0.002,"vel":63,"frq":0.78},{"lobe":4,"psd":0.004,"vel":110,"frq":2.2},{"lobe":4,"psd":0.004,"vel":88,"frq":0.86},{"lobe":4,"psd":0.004,"vel":68,"frq":0.68},{"lobe":4,"psd":0.006,"vel":105,"frq":1.89},{"lobe":4,"psd":0.006,"vel":88,"frq":0.86},{"lobe":4,"psd":0.006,"vel":72,"frq":0.69},{"lobe":4,"psd":0.008,"vel":100,"frq":1.67},{"lobe":4,"psd":0.008,"vel":88,"frq":0.86},{"lobe":4,"psd":0.008,"vel":74.6,"frq":0.74},{"lobe":4,"psd":0.01,"vel":95.6,"frq":1.43},{"lobe":4,"psd":0.01,"vel":88,"frq":0.86},{"lobe":4,"psd":0.01,"vel":76.8,"frq":0.75},{"lobe":4,"psd":0.012,"vel":93.3,"frq":1.15},{"lobe":4,"psd":0.012,"vel":88,"frq":0.86},{"lobe":4,"psd":0.012,"vel":82,"frq":0.73},{"lobe":4,"psd":0.013,"vel":90.6,"frq":1.05},{"lobe":4,"psd":0.013,"vel":88,"frq":0.86},{"lobe":4,"psd":0.013,"vel":84.5,"frq":0.79},{"lobe":4,"psd":0.0135,"vel":88,"frq":0.86}]},
"layer":[
{"layer":[
{"data":{"name":"box"},"transform":[{"calculate":"datum.h*0.025","as":"psd"},{"calculate":"1-datum.vel/250","as":"a"},{"calculate":"1-datum.frq/10","as":"b"},{"calculate":"1234+606*datum.a+606*datum.b","as":"sx"},{"calculate":"893+247*datum.a-247*datum.b-24700*datum.psd","as":"sy"}],
"layer":[{"transform":[{"filter":"datum.kind=='grid'"}],"mark":{"type":"line","color":"#d9d9d9","strokeWidth":2},"encoding":{"detail":{"field":"id"},"order":{"value":null}}},
{"transform":[{"filter":"datum.kind=='axis'"}],"mark":{"type":"line","color":"#262626","strokeWidth":2.5},"encoding":{"detail":{"field":"id"},"order":{"value":null}}},
{"transform":[{"filter":"datum.kind=='vt'"}],"mark":{"type":"text","align":"right","dx":-35,"dy":50},"encoding":{"text":{"field":"vel"}}},
{"transform":[{"filter":"datum.kind=='ft'"}],"mark":{"type":"text","align":"left","dx":38,"dy":47},"encoding":{"text":{"field":"frq"}}}]},
{"data":{"name":"za"},"transform":[{"calculate":"1-datum.vel/250","as":"a"},{"calculate":"1-datum.frq/10","as":"b"},{"calculate":"1234+606*datum.a+606*datum.b","as":"sx"},{"calculate":"893+247*datum.a-247*datum.b-24700*datum.psd","as":"sy"}],
"layer":[{"transform":[{"filter":"datum.kind=='grid'"}],"mark":{"type":"line","color":"#d9d9d9","strokeWidth":2},"encoding":{"detail":{"field":"id"},"order":{"value":null}}},
{"transform":[{"filter":"datum.kind=='axis'"}],"mark":{"type":"line","color":"#262626","strokeWidth":2.5},"encoding":{"detail":{"field":"id"},"order":{"value":null}}},
{"transform":[{"filter":"datum.kind=='zl'"}],"mark":{"type":"text","align":"right","dx":-36,"dy":-6},"encoding":{"text":{"field":"psd","type":"quantitative","format":"~g"}}},
{"transform":[{"filter":"datum.kind=='title'"}],"mark":{"type":"text","align":"center","fontSize":56},"encoding":{"text":{"field":"t"}}},
{"transform":[{"filter":"datum.kind=='ytitle'"}],"mark":{"type":"text","align":"center","angle":270,"fontSize":56},"encoding":{"text":{"field":"t"}}}]},
{"data":{"name":"a"},"transform":[{"window":[{"op":"row_number","as":"n"}]},{"window":[{"op":"dense_rank","as":"lvl"}],"sort":[{"field":"psd"}],"groupby":["lobe"]},{"calculate":"[datum.lvl,datum.lvl-1]","as":"band"},{"flatten":["band"]},{"filter":"datum.band>=1"},{"calculate":"datum.band==datum.lvl?datum.n:1000000-datum.n","as":"seq"},{"joinaggregate":[{"op":"mean","field":"psd","as":"bandz"}],"groupby":["lobe","band"]},{"calculate":"datum.lobe+'_'+datum.band","as":"key"},{"calculate":"1-datum.vel/250","as":"a"},{"calculate":"1-datum.frq/10","as":"b"},{"calculate":"1234+606*datum.a+606*datum.b","as":"sx"},{"calculate":"893+247*datum.a-247*datum.b-24700*datum.psd","as":"sy"}],
"encoding":{"detail":{"field":"key"},"order":{"field":"seq"}},
"layer":[{"mark":{"type":"line","strokeWidth":2},"encoding":{"stroke":{"field":"bandz","type":"quantitative","scale":{"domain":[0,0.00253,0.00759,0.01266,0.01772,0.020251],"range":["#00008f","#0000ff","#00ffff","#ffff00","#ff0000","#800000"]},"legend":null}}},
{"mark":{"type":"line","filled":true},"encoding":{"fill":{"field":"bandz","type":"quantitative","scale":{"domain":[0,0.00253,0.00759,0.01266,0.01772,0.02025],"range":["#00008f","#0000ff","#00ffff","#ffff00","#ff0000","#800000"]},"legend":{"orient":"none","legendX":2532,"legendY":24,"title":null,"gradientLength":1113,"gradientThickness":85,"values":[0,0.002,0.004,0.006,0.008,0.01,0.012,0.014,0.016,0.018,0.02],"format":"~g","labelFont":"Liberation Sans","labelFontSize":46,"labelColor":"#262626","labelOffset":20,"gradientStrokeColor":"#262626","gradientStrokeWidth":3}}}}]}]},
{"layer":[
{"data":{"name":"box"},"transform":[{"calculate":"datum.h*0.06","as":"psd"},{"calculate":"1-datum.vel/250","as":"a"},{"calculate":"1-datum.frq/10","as":"b"},{"calculate":"236+627*datum.a+588*datum.b","as":"sx"},{"calculate":"2131+273*datum.a-289*datum.b-9200*datum.psd","as":"sy"}],
"layer":[{"transform":[{"filter":"datum.kind=='grid'"}],"mark":{"type":"line","color":"#d9d9d9","strokeWidth":2},"encoding":{"detail":{"field":"id"},"order":{"value":null}}},
{"transform":[{"filter":"datum.kind=='axis'"}],"mark":{"type":"line","color":"#262626","strokeWidth":2.5},"encoding":{"detail":{"field":"id"},"order":{"value":null}}},
{"transform":[{"filter":"datum.kind=='vt'"}],"mark":{"type":"text","align":"right","dx":-35,"dy":50},"encoding":{"text":{"field":"vel"}}},
{"transform":[{"filter":"datum.kind=='ft'"}],"mark":{"type":"text","align":"left","dx":38,"dy":47},"encoding":{"text":{"field":"frq"}}}]},
{"data":{"name":"zb"},"transform":[{"calculate":"1-datum.vel/250","as":"a"},{"calculate":"1-datum.frq/10","as":"b"},{"calculate":"236+627*datum.a+588*datum.b","as":"sx"},{"calculate":"2131+273*datum.a-289*datum.b-9200*datum.psd","as":"sy"}],
"layer":[{"transform":[{"filter":"datum.kind=='grid'"}],"mark":{"type":"line","color":"#d9d9d9","strokeWidth":2},"encoding":{"detail":{"field":"id"},"order":{"value":null}}},
{"transform":[{"filter":"datum.kind=='axis'"}],"mark":{"type":"line","color":"#262626","strokeWidth":2.5},"encoding":{"detail":{"field":"id"},"order":{"value":null}}},
{"transform":[{"filter":"datum.kind=='zl'"}],"mark":{"type":"text","align":"right","dx":-36,"dy":-6},"encoding":{"text":{"field":"psd","type":"quantitative","format":"~g"}}},
{"transform":[{"filter":"datum.kind=='title'"}],"mark":{"type":"text","align":"center","fontSize":56},"encoding":{"text":{"field":"t"}}},
{"transform":[{"filter":"datum.kind=='ytitle'"}],"mark":{"type":"text","align":"center","angle":270,"fontSize":56},"encoding":{"text":{"field":"t"}}}]},
{"data":{"name":"b"},"transform":[{"window":[{"op":"row_number","as":"n"}]},{"window":[{"op":"dense_rank","as":"lvl"}],"sort":[{"field":"psd"}],"groupby":["lobe"]},{"calculate":"[datum.lvl,datum.lvl-1]","as":"band"},{"flatten":["band"]},{"filter":"datum.band>=1"},{"calculate":"datum.band==datum.lvl?datum.n:1000000-datum.n","as":"seq"},{"joinaggregate":[{"op":"mean","field":"psd","as":"bandz"}],"groupby":["lobe","band"]},{"calculate":"datum.lobe+'_'+datum.band","as":"key"},{"calculate":"1-datum.vel/250","as":"a"},{"calculate":"1-datum.frq/10","as":"b"},{"calculate":"236+627*datum.a+588*datum.b","as":"sx"},{"calculate":"2131+273*datum.a-289*datum.b-9200*datum.psd","as":"sy"}],
"encoding":{"detail":{"field":"key"},"order":{"field":"seq"}},
"layer":[{"mark":{"type":"line","strokeWidth":2},"encoding":{"stroke":{"field":"bandz","type":"quantitative","scale":{"domain":[0,0.0075,0.0225,0.0375,0.0525,0.060001],"range":["#00008f","#0000ff","#00ffff","#ffff00","#ff0000","#800000"]},"legend":null}}},
{"mark":{"type":"line","filled":true},"encoding":{"fill":{"field":"bandz","type":"quantitative","scale":{"domain":[0,0.0075,0.0225,0.0375,0.0525,0.06],"range":["#00008f","#0000ff","#00ffff","#ffff00","#ff0000","#800000"]},"legend":{"orient":"none","legendX":1542,"legendY":1300,"title":null,"gradientLength":1110,"gradientThickness":83,"values":[0,0.01,0.02,0.03,0.04,0.05],"format":"~g","labelFont":"Liberation Sans","labelFontSize":46,"labelColor":"#262626","labelOffset":20,"gradientStrokeColor":"#262626","gradientStrokeWidth":3}}}}]}]},
{"layer":[
{"data":{"name":"box"},"transform":[{"calculate":"datum.h*0.08","as":"psd"},{"calculate":"1-datum.vel/250","as":"a"},{"calculate":"1-datum.frq/10","as":"b"},{"calculate":"1988+635*datum.a+572*datum.b","as":"sx"},{"calculate":"2147+263*datum.a-290*datum.b-7080*datum.psd","as":"sy"}],
"layer":[{"transform":[{"filter":"datum.kind=='grid'"}],"mark":{"type":"line","color":"#d9d9d9","strokeWidth":2},"encoding":{"detail":{"field":"id"},"order":{"value":null}}},
{"transform":[{"filter":"datum.kind=='axis'"}],"mark":{"type":"line","color":"#262626","strokeWidth":2.5},"encoding":{"detail":{"field":"id"},"order":{"value":null}}},
{"transform":[{"filter":"datum.kind=='vt'"}],"mark":{"type":"text","align":"right","dx":-35,"dy":50},"encoding":{"text":{"field":"vel"}}},
{"transform":[{"filter":"datum.kind=='ft'"}],"mark":{"type":"text","align":"left","dx":38,"dy":47},"encoding":{"text":{"field":"frq"}}}]},
{"data":{"name":"zc"},"transform":[{"calculate":"1-datum.vel/250","as":"a"},{"calculate":"1-datum.frq/10","as":"b"},{"calculate":"1988+635*datum.a+572*datum.b","as":"sx"},{"calculate":"2147+263*datum.a-290*datum.b-7080*datum.psd","as":"sy"}],
"layer":[{"transform":[{"filter":"datum.kind=='grid'"}],"mark":{"type":"line","color":"#d9d9d9","strokeWidth":2},"encoding":{"detail":{"field":"id"},"order":{"value":null}}},
{"transform":[{"filter":"datum.kind=='axis'"}],"mark":{"type":"line","color":"#262626","strokeWidth":2.5},"encoding":{"detail":{"field":"id"},"order":{"value":null}}},
{"transform":[{"filter":"datum.kind=='zl'"}],"mark":{"type":"text","align":"right","dx":-36,"dy":-6},"encoding":{"text":{"field":"psd","type":"quantitative","format":"~g"}}},
{"transform":[{"filter":"datum.kind=='title'"}],"mark":{"type":"text","align":"center","fontSize":56},"encoding":{"text":{"field":"t"}}},
{"transform":[{"filter":"datum.kind=='ytitle'"}],"mark":{"type":"text","align":"center","angle":270,"fontSize":56},"encoding":{"text":{"field":"t"}}}]},
{"data":{"name":"c"},"transform":[{"window":[{"op":"row_number","as":"n"}]},{"window":[{"op":"dense_rank","as":"lvl"}],"sort":[{"field":"psd"}],"groupby":["lobe"]},{"calculate":"[datum.lvl,datum.lvl-1]","as":"band"},{"flatten":["band"]},{"filter":"datum.band>=1"},{"calculate":"datum.band==datum.lvl?datum.n:1000000-datum.n","as":"seq"},{"joinaggregate":[{"op":"mean","field":"psd","as":"bandz"}],"groupby":["lobe","band"]},{"calculate":"datum.lobe+'_'+datum.band","as":"key"},{"calculate":"1-datum.vel/250","as":"a"},{"calculate":"1-datum.frq/10","as":"b"},{"calculate":"1988+635*datum.a+572*datum.b","as":"sx"},{"calculate":"2147+263*datum.a-290*datum.b-7080*datum.psd","as":"sy"}],
"encoding":{"detail":{"field":"key"},"order":{"field":"seq"}},
"layer":[{"mark":{"type":"line","strokeWidth":2},"encoding":{"stroke":{"field":"bandz","type":"quantitative","scale":{"domain":[0,0.00979,0.02936,0.04894,0.06851,0.078301],"range":["#00008f","#0000ff","#00ffff","#ffff00","#ff0000","#800000"]},"legend":null}}},
{"mark":{"type":"line","filled":true},"encoding":{"fill":{"field":"bandz","type":"quantitative","scale":{"domain":[0,0.00979,0.02936,0.04894,0.06851,0.0783],"range":["#00008f","#0000ff","#00ffff","#ffff00","#ff0000","#800000"]},"legend":{"orient":"none","legendX":3290,"legendY":1291,"title":null,"gradientLength":1113,"gradientThickness":82,"values":[0,0.01,0.02,0.03,0.04,0.05,0.06,0.07],"format":"~g","labelFont":"Liberation Sans","labelFontSize":46,"labelColor":"#262626","labelOffset":20,"gradientStrokeColor":"#262626","gradientStrokeWidth":3}}}}]}]}
]}
